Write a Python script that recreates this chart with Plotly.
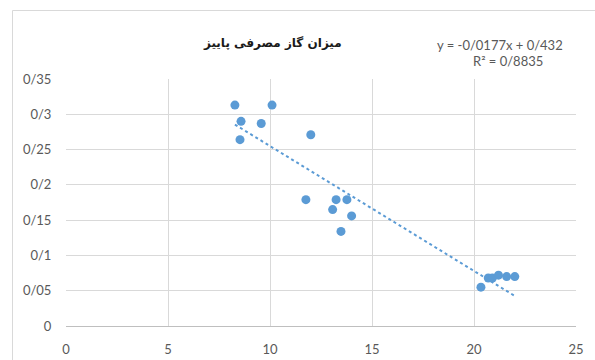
import plotly.graph_objects as go

# Autumn gas consumption samples
x_vals = [8.28, 10.1, 8.58, 9.57, 8.53, 12.0,
          11.76, 13.24, 13.77, 13.07, 14.0, 13.48,
          20.34, 20.7, 20.9, 21.2, 21.6, 22.0]
y_vals = [0.313, 0.313, 0.290, 0.287, 0.264, 0.271,
          0.179, 0.179, 0.179, 0.165, 0.156, 0.134,
          0.055, 0.068, 0.068, 0.072, 0.070, 0.070]

# Linear trend as printed on the chart
slope = -0.0177
intercept = 0.432
r_squared = 0.8835

x_ticks = [0, 5, 10, 15, 20, 25]
y_ticks = [0, 0.05, 0.1, 0.15, 0.2, 0.25, 0.3, 0.35]
y_tick_text = ["0", "0/05", "0/1", "0/15", "0/2", "0/25", "0/3", "0/35"]

title_text = "میزان گاز مصرفی پاییز"

blue = "#5b9bd5"
grid = "#d9d9d9"
label_color = "#595959"

x_lo, x_hi = min(x_vals), max(x_vals)
trend_x = [x_lo, x_hi]
trend_y = [slope * v + intercept for v in trend_x]

fig = go.Figure()
fig.add_trace(go.Scatter(
    x=trend_x, y=trend_y, mode="lines",
    line=dict(color=blue, width=2, dash="dot"),
    hoverinfo="skip", showlegend=False,
))
fig.add_trace(go.Scatter(
    x=x_vals, y=y_vals, mode="markers",
    marker=dict(color=blue, size=9, line=dict(width=0)),
    showlegend=False,
))

eq_text = f"y = -0/{str(abs(slope)).split('.')[1]}x + 0/{str(intercept).split('.')[1]}"
r2_text = f"R² = 0/{str(r_squared).split('.')[1]}"

fig.update_layout(
    width=595, height=360,
    margin=dict(l=66, r=19, t=79, b=34, autoexpand=False),
    paper_bgcolor="white", plot_bgcolor="white",
    font=dict(family="Lato, Calibri, sans-serif", size=13, color=label_color),
    xaxis=dict(
        range=[0, 25], tickvals=x_ticks, ticktext=[str(t) for t in x_ticks],
        showgrid=True, gridcolor=grid, gridwidth=1, automargin=False,
        zeroline=False, showline=True, linecolor="#bfbfbf", linewidth=1,
        ticks="outside", ticklen=11, tickcolor="rgba(0,0,0,0)",
        tickfont=dict(size=13, color=label_color),
    ),
    yaxis=dict(
        range=[0, 0.35], tickvals=y_ticks, ticktext=y_tick_text,
        showgrid=True, gridcolor=grid, gridwidth=1, automargin=False,
        zeroline=False, showline=False,
        ticks="outside", ticklen=11, tickcolor="rgba(0,0,0,0)",
        tickfont=dict(size=13, color=label_color),
    ),
    annotations=[
        dict(text=f"<b>{title_text}</b>", xref="paper", yref="paper",
             x=(272 - 66) / 510, y=(326 - 43) / 247, xanchor="center", yanchor="middle",
             showarrow=False, font=dict(family="DejaVu Sans", size=12, color="#1a1a1a")),
        dict(text=eq_text, xref="paper", yref="paper",
             x=(500 - 66) / 510, y=(326 - 45) / 247, xanchor="center", yanchor="middle",
             showarrow=False, font=dict(size=13, color=label_color)),
        dict(text=r2_text, xref="paper", yref="paper",
             x=(508 - 66) / 510, y=(326 - 61) / 247, xanchor="center", yanchor="middle",
             showarrow=False, font=dict(size=13, color=label_color)),
    ],
    shapes=[
        # chart frame edges (left and top)
        dict(type="line", xref="paper", yref="paper",
             x0=(12.5 - 66) / 510, x1=(12.5 - 66) / 510, y0=-0.5, y1=(326 - 10.5) / 247,
             line=dict(color=grid, width=1)),
        dict(type="line", xref="paper", yref="paper",
             x0=(12.5 - 66) / 510, x1=1.2, y0=(326 - 10.5) / 247, y1=(326 - 10.5) / 247,
             line=dict(color=grid, width=1)),
    ],
)

fig.write_html("out.html")
